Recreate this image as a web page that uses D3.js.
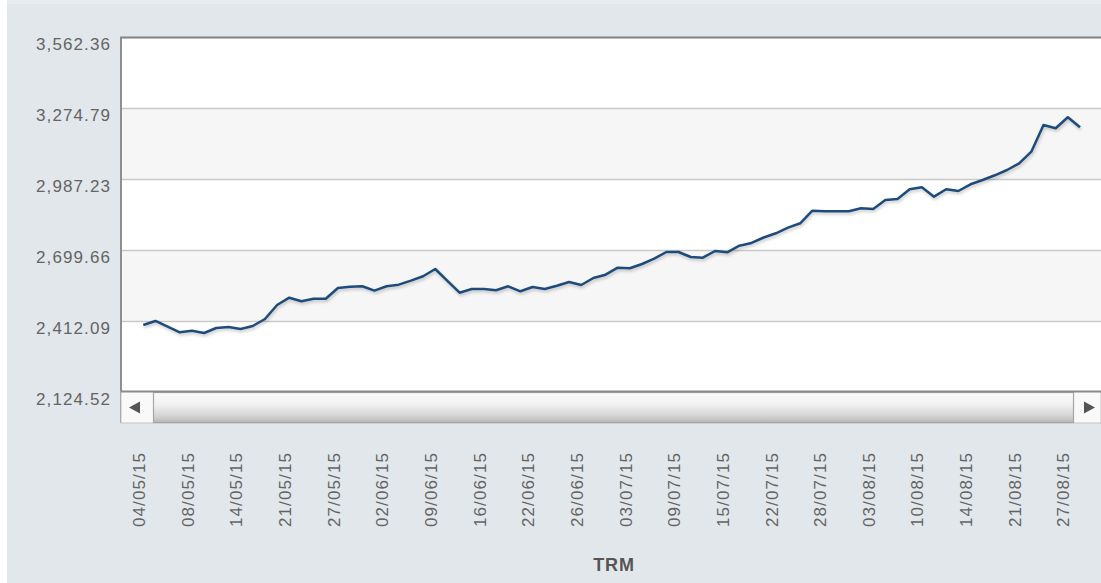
<!DOCTYPE html>
<html>
<head>
<meta charset="utf-8">
<script src="https://cdnjs.cloudflare.com/ajax/libs/d3/7.8.5/d3.min.js"></script>
<style>
    html, body { margin: 0; padding: 0; background: #ffffff; overflow: hidden; }
    .ylabel, .xlabel { font-family: "Liberation Sans", Arial, sans-serif; font-size: 17px; fill: #646464; letter-spacing: 1.1px; }
    .title { font-family: "Liberation Sans", Arial, sans-serif; font-size: 18px; font-weight: bold; fill: #555555; letter-spacing: 0.8px; }
</style>
</head>
<body>
<div id="chart"></div>
<script>

// business days (dd/mm/yy) of the TRM series
var dates = [
    "04/05/15","05/05/15","06/05/15","07/05/15","08/05/15","11/05/15","12/05/15","13/05/15","14/05/15","15/05/15",
    "19/05/15","20/05/15","21/05/15","22/05/15","25/05/15","26/05/15","27/05/15","28/05/15","29/05/15",
    "01/06/15","02/06/15","03/06/15","04/06/15","05/06/15","09/06/15","10/06/15","11/06/15","12/06/15","16/06/15",
    "17/06/15","18/06/15","19/06/15","22/06/15","23/06/15","24/06/15","25/06/15","26/06/15","30/06/15",
    "01/07/15","02/07/15","03/07/15","06/07/15","07/07/15","08/07/15","09/07/15","10/07/15","13/07/15","14/07/15",
    "15/07/15","16/07/15","17/07/15","21/07/15","22/07/15","23/07/15","24/07/15","27/07/15","28/07/15","29/07/15",
    "30/07/15","31/07/15",
    "03/08/15","04/08/15","05/08/15","06/08/15","10/08/15","11/08/15","12/08/15","13/08/15","14/08/15","18/08/15",
    "19/08/15","20/08/15","21/08/15","24/08/15","25/08/15","26/08/15","27/08/15","28/08/15"
];

// TRM values
var trm = [
    2397.9, 2414.2, 2391.1, 2368.4, 2374.9, 2365.6, 2385.8, 2389.9, 2381.7, 2393.9,
    2422.2, 2478.9, 2508.5, 2493.9, 2504.4, 2504.4, 2547.8, 2553.0, 2554.7,
    2536.9, 2554.7, 2561.2, 2577.4, 2595.2, 2624.8, 2577.0, 2528.8, 2543.8, 2543.8,
    2538.5, 2554.7, 2534.4, 2551.9, 2543.8, 2557.1, 2572.1, 2560.0, 2588.3,
    2601.7, 2630.0, 2627.6, 2645.0, 2666.5, 2693.6, 2693.6, 2673.4, 2670.5, 2697.7,
    2692.4, 2719.1, 2730.1, 2752.3, 2769.4, 2792.1, 2809.9, 2860.9, 2858.5, 2858.5,
    2858.5, 2870.6,
    2867.8, 2904.2, 2908.3, 2947.6, 2955.7, 2917.6, 2947.6, 2940.7, 2967.8, 2985.2,
    3004.3, 3025.7, 3052.9, 3099.9, 3208.0, 3194.6, 3239.2, 3198.7
];

var yTicks = [2124.52, 2412.09, 2699.66, 2987.23, 3274.79, 3562.36];

// dates that carry a label on the x axis
var xTickLabels = ["04/05/15","08/05/15","14/05/15","21/05/15","27/05/15","02/06/15","09/06/15","16/06/15",
    "22/06/15","26/06/15","03/07/15","09/07/15","15/07/15","22/07/15","28/07/15","03/08/15","10/08/15",
    "14/08/15","21/08/15","27/08/15"];

var seriesName = "TRM";

var width = 1101, height = 583;
var plot = {left: 121, top: 37.5, right: 1104, bottom: 392.5};

var svg = d3.select("#chart").append("svg")
    .attr("width", width)
    .attr("height", height);

//page background
svg.append("rect").attr("width", width).attr("height", height).attr("fill", "#ffffff");
svg.append("rect").attr("x", 7).attr("y", 0).attr("width", width).attr("height", height).attr("fill", "#e2e7eb");
svg.append("rect").attr("x", 7).attr("y", 0).attr("width", width).attr("height", 4).attr("fill", "#eaedf0");

var defs = svg.append("defs");
var shadow = defs.append("filter").attr("id", "shadow")
    .attr("x", "-5%").attr("y", "-20%").attr("width", "110%").attr("height", "140%");
shadow.append("feDropShadow")
    .attr("dx", 1).attr("dy", 2).attr("stdDeviation", 1.4)
    .attr("flood-color", "#000").attr("flood-opacity", 0.22);

var grad = defs.append("linearGradient").attr("id", "thumb")
    .attr("x1", 0).attr("y1", 0).attr("x2", 0).attr("y2", 1);
grad.append("stop").attr("offset", "0%").attr("stop-color", "#fbfbfb");
grad.append("stop").attr("offset", "40%").attr("stop-color", "#f1f1f1");
grad.append("stop").attr("offset", "75%").attr("stop-color", "#d6d6d6");
grad.append("stop").attr("offset", "100%").attr("stop-color", "#b9b9b9");

var yScale = d3.scaleLinear()
    .domain([yTicks[0], yTicks[yTicks.length - 1]])
    .range([plot.bottom, plot.top]);

var xScale = d3.scalePoint()
    .domain(dates)
    .range([143.3, 1080]);

//alternating bands between the grid lines
var bands = svg.append("g");
for (var i = 0; i < yTicks.length - 1; i++) {
    bands.append("rect")
        .attr("x", plot.left)
        .attr("y", yScale(yTicks[i + 1]))
        .attr("width", plot.right - plot.left)
        .attr("height", yScale(yTicks[i]) - yScale(yTicks[i + 1]))
        .attr("fill", i % 2 == 1 ? "#f6f6f6" : "#ffffff");
}

//grid lines
svg.append("g").selectAll("line")
    .data(yTicks)
    .enter().append("line")
    .attr("x1", plot.left).attr("x2", plot.right)
    .attr("y1", function (d) { return yScale(d); })
    .attr("y2", function (d) { return yScale(d); })
    .attr("stroke", "#c9c9c9")
    .attr("stroke-width", 1.6);

//y axis labels
var yAxis = d3.axisLeft(yScale)
    .tickValues(yTicks)
    .tickFormat(d3.format(",.2f"))
    .tickSize(0)
    .tickPadding(0);
var yAxisG = svg.append("g").attr("transform", "translate(111,0)").call(yAxis);
yAxisG.select(".domain").remove();
yAxisG.selectAll("text")
    .attr("class", "ylabel")
    .attr("dy", null)
    .attr("y", 12)
    .attr("font-size", null)
    .attr("font-family", null)
    .attr("fill", null);

//plot border top & left
svg.append("path")
    .attr("d", "M" + plot.left + "," + 423 + "V" + plot.top + "H" + plot.right)
    .attr("fill", "none")
    .attr("stroke", "#858585")
    .attr("stroke-width", 1.8);

//the series
var line = d3.line()
    .x(function (d, i) { return xScale(dates[i]); })
    .y(function (d) { return yScale(d); });

svg.append("path")
    .datum(trm)
    .attr("d", line)
    .attr("fill", "none")
    .attr("stroke", "#1f4c7c")
    .attr("stroke-width", 2.5)
    .attr("stroke-linejoin", "round")
    .attr("filter", "url(#shadow)");

//scrollbar
var sb = svg.append("g");
var sbTop = 391.5, sbBottom = 423;
sb.append("rect")
    .attr("x", plot.left).attr("y", sbTop)
    .attr("width", width - plot.left).attr("height", sbBottom - sbTop)
    .attr("fill", "#f9f9f9")
    .attr("stroke", "#c4c4c4").attr("stroke-width", 1);
sb.append("rect")
    .attr("x", 153.5).attr("y", sbTop + 1)
    .attr("width", 1073.5 - 153.5).attr("height", sbBottom - sbTop - 1.5)
    .attr("fill", "url(#thumb)")
    .attr("stroke", "#a6a6a6").attr("stroke-width", 1.2);
sb.append("line")
    .attr("x1", plot.left).attr("x2", width)
    .attr("y1", sbTop).attr("y2", sbTop)
    .attr("stroke", "#8a8a8a").attr("stroke-width", 1.8);
sb.append("path")
    .attr("d", "M129,407.5L140,401.5L140,413.5Z")
    .attr("fill", "#555555");
sb.append("path")
    .attr("d", "M1095,407.5L1084,401.5L1084,413.5Z")
    .attr("fill", "#555555");

//x axis labels, rotated
var xAxisG = svg.append("g");
xAxisG.selectAll("text")
    .data(xTickLabels)
    .enter().append("text")
    .attr("class", "xlabel")
    .attr("transform", function (d) {
        return "translate(" + (xScale(d) - 4.5) + ",452) rotate(-90)";
    })
    .attr("text-anchor", "end")
    .attr("dy", "0.36em")
    .text(function (d) { return d; });

//series title
svg.append("text")
    .attr("class", "title")
    .attr("x", 614)
    .attr("y", 571)
    .attr("text-anchor", "middle")
    .text(seriesName);

</script>
</body>
</html>
